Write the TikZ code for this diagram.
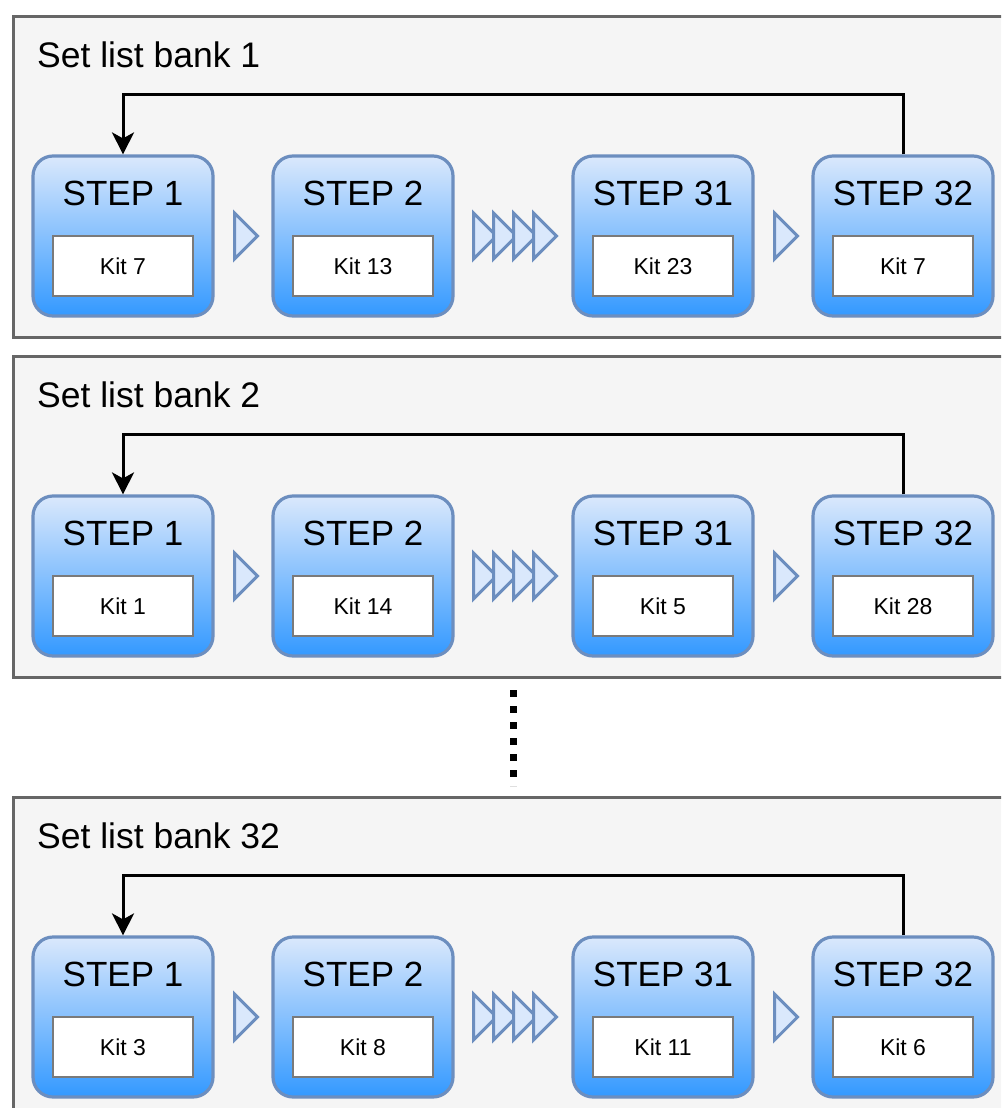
\documentclass[tikz,border=0pt]{standalone}
\usepackage{fontspec}
\setmainfont{Liberation Sans}
\usetikzlibrary{arrows.meta,calc}

\definecolor{bankline}{HTML}{666666}
\definecolor{bankfill}{HTML}{F5F5F5}
\definecolor{stepline}{HTML}{6C8EBF}
\definecolor{steptop}{HTML}{DAE8FC}
\definecolor{stepbot}{HTML}{3399FF}
\definecolor{kitline}{HTML}{7A7A7A}

\tikzset{
  bankbox/.style={draw=bankline, fill=bankfill, line width=3pt, inner sep=0pt,
    minimum width=1010pt, minimum height=321pt, anchor=north west},
  banktitle/.style={font=\fontsize{35.5}{40}\selectfont, anchor=base west, inner sep=0pt},
  stepbox/.style={draw=stepline, line width=3.2pt, rounded corners=20pt,
    top color=steptop, bottom color=stepbot, inner sep=0pt,
    minimum width=180pt, minimum height=160pt},
  steptitle/.style={font=\fontsize{35}{40}\selectfont, anchor=base, inner sep=0pt},
  kitbox/.style={draw=kitline, fill=white, line width=2pt, inner sep=0pt,
    minimum width=140pt, minimum height=60pt, font=\fontsize{23}{27}\selectfont},
  flowtri/.style={draw=stepline, fill=steptop, line width=3pt, line join=miter},
  loopback/.style={draw=black, line width=3pt,
    -{Stealth[length=22pt,width=22pt,inset=6pt]}},
  gapdots/.style={draw=black, line width=7pt, dash pattern=on 7pt off 9pt}
}

\begin{document}
\begin{tikzpicture}[x=1pt,y=-1pt]
\useasboundingbox (0,0) rectangle (1001,1108);
\clip (0,0) rectangle (1001,1108);

% one bank per row: index / vertical offset / title number / kits of steps 1, 2, 31, 32
\foreach \b/\off/\num/\ka/\kb/\kc/\kd in {1/0/1/7/13/23/7, 2/340/2/1/14/5/28, 3/781/32/3/8/11/6}{
  \node[bankbox] (bank\b) at (12,15+\off) {};
  \node[banktitle] (title\b) at (37,67+\off) {Set list bank \num};

  \foreach \s/\x/\k in {1/123/\ka, 2/363/\kb, 31/663/\kc, 32/903/\kd}{
    \node[stepbox] (s\b-\s) at (\x,236+\off) {};
    \node[steptitle] (t\b-\s) at ($(s\b-\s.north)+(0,51)$) {STEP \s};
    \node[kitbox] (k\b-\s) at ($(s\b-\s.center)+(0,30)$) {Kit \k};
  }

  % single step markers
  \draw[flowtri] ($(s\b-1.east)+(20,-23)$) -- ++(23,23) -- ++(-23,23) -- cycle;
  \draw[flowtri] ($(s\b-31.east)+(20,-23)$) -- ++(23,23) -- ++(-23,23) -- cycle;
  % skipped steps 3 to 30
  \foreach \i in {0,1,2,3}{
    \draw[flowtri] ($(s\b-2.east)+(19+20*\i,-23)$) -- ++(23,23) -- ++(-23,23) -- cycle;
  }

  % wrap from the last step back to the first
  \draw[loopback] (s\b-32.north) -- ++(0,-60) -| (s\b-1.north);
}

% banks 3 to 31 left out
\coordinate (dotx) at (513,0);
\draw[gapdots] ($(bank2.south west -| dotx)+(0,11)$) -- ($(bank3.north west -| dotx)+(0,-10)$);
\end{tikzpicture}
\end{document}
